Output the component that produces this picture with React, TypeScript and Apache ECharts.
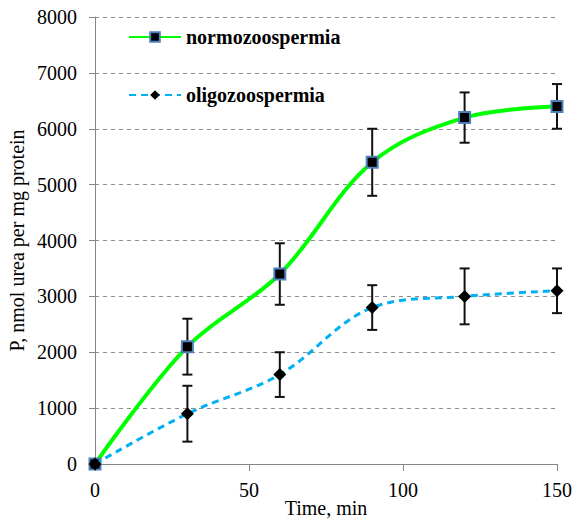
import React, { useEffect, useRef } from "react";
import * as echarts from "echarts";

const times = [0, 30, 60, 90, 120, 150];
const normoValues = [0, 2100, 3400, 5400, 6200, 6400];
const normoErrors = [0, 500, 550, 600, 450, 400];
const oligoValues = [0, 900, 1600, 2800, 3000, 3100];
const oligoErrors = [0, 500, 400, 400, 500, 400];
const seriesNames = ["normozoospermia", "oligozoospermia"];
const xTitle = "Time, min";
const yTitle = "P, nmol urea per mg protein";

const FONT = "Liberation Serif";

function errData(vals: number[], errs: number[]) {
  return times
    .map((t, i) => [t, vals[i] - errs[i], vals[i] + errs[i]])
    .filter((d, i) => errs[i] > 0);
}

function errSeries(data: number[][]) {
  return {
    type: "custom",
    silent: true,
    z: 1,
    renderItem: (params: any, api: any) => {
      const x = api.value(0);
      const lo = api.coord([x, api.value(1)]);
      const hi = api.coord([x, api.value(2)]);
      const w = 5;
      const style = { stroke: "#111", lineWidth: 2 };
      return {
        type: "group",
        children: [
          { type: "line", shape: { x1: lo[0], y1: lo[1], x2: hi[0], y2: hi[1] }, style },
          { type: "line", shape: { x1: lo[0] - w, y1: lo[1], x2: lo[0] + w, y2: lo[1] }, style },
          { type: "line", shape: { x1: hi[0] - w, y1: hi[1], x2: hi[0] + w, y2: hi[1] }, style },
        ],
      };
    },
    data,
  };
}

export default function App() {
  const ref = useRef<HTMLDivElement>(null);
  useEffect(() => {
    if (!ref.current) return;
    const chart = echarts.init(ref.current, undefined, { renderer: "svg" });
    chart.setOption({
      animation: false,
      textStyle: { fontFamily: FONT },
      grid: { left: 95, right: 17, top: 17, bottom: 55, outerBoundsMode: "none", containLabel: false },
      legend: {
        orient: "vertical",
        left: 128,
        top: 27,
        padding: 0,
        itemGap: 38,
        itemWidth: 52,
        itemHeight: 12,
        textStyle: { fontFamily: FONT, fontSize: 20, fontWeight: "bold", color: "#000" },
        data: seriesNames,
      },
      xAxis: {
        type: "value",
        min: 0,
        max: 150,
        interval: 50,
        name: xTitle,
        nameLocation: "middle",
        nameGap: 34,
        nameMoveOverlap: false,
        nameTextStyle: { fontFamily: FONT, fontSize: 20, color: "#000", lineHeight: 20 },
        axisLine: { show: true, lineStyle: { color: "#868686", width: 1 } },
        axisTick: { show: true, length: 7, lineStyle: { color: "#868686" } },
        axisLabel: { fontFamily: FONT, fontSize: 20, color: "#000", margin: 16, formatter: (v: number) => String(v) },
        splitLine: { show: false },
      },
      yAxis: {
        type: "value",
        min: 0,
        max: 8000,
        interval: 1000,
        name: yTitle,
        nameLocation: "middle",
        nameGap: 68,
        nameMoveOverlap: false,
        nameTextStyle: { fontFamily: FONT, fontSize: 20, color: "#000" },
        axisLine: { show: true, lineStyle: { color: "#868686", width: 1 } },
        axisTick: { show: true, length: 6, lineStyle: { color: "#868686" } },
        axisLabel: { fontFamily: FONT, fontSize: 20, color: "#000", margin: 18, formatter: (v: number) => String(v) },
        splitLine: { show: true, lineStyle: { color: "#8c8c8c", type: [4, 4], width: 1 } },
      },
      series: [
        errSeries(errData(normoValues, normoErrors)),
        errSeries(errData(oligoValues, oligoErrors)),
        {
          name: seriesNames[0],
          type: "line",
          z: 3,
          smooth: 0.35,
          data: times.map((t, i) => [t, normoValues[i]]),
          symbol: "rect",
          symbolSize: 11,
          itemStyle: { color: "#000", borderColor: "#4F81BD", borderWidth: 2 },
          lineStyle: { color: "#00ff00", width: 4 },
        },
        {
          name: seriesNames[1],
          type: "line",
          z: 4,
          smooth: 0.35,
          data: times.map((t, i) => [t, oligoValues[i]]),
          symbol: "diamond",
          symbolSize: 13,
          itemStyle: { color: "#000", borderColor: "#000", borderWidth: 0 },
          lineStyle: { color: "#00b0f0", width: 3, type: [7, 5] },
        },
      ],
    });
    return () => chart.dispose();
  }, []);
  return <div ref={ref} style={{ width: 574, height: 519, position: "absolute", left: 0, top: 0 }} />;
}
